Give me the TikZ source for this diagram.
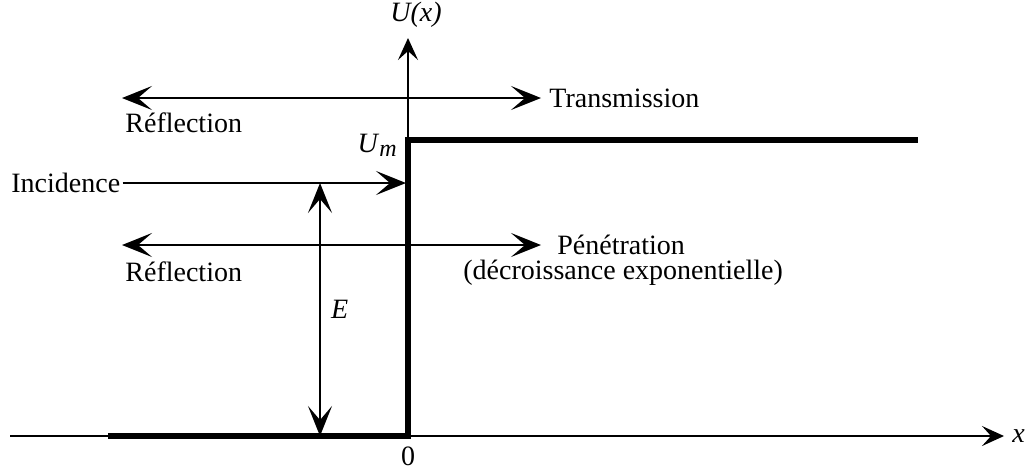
\documentclass[tikz,border=0pt]{standalone}
\usepackage{fontspec}
\setmainfont{Liberation Serif}
\usetikzlibrary{positioning, arrows.meta}

\begin{document}
\begin{tikzpicture}[x=0.5pt, y=-0.5pt, font=\fontsize{14}{16}\selectfont, inner sep=0pt,
    thinline/.style={line width=1pt},
    wellline/.style={line width=3.2pt},
    barb/.style={-{Stealth[length=15pt, width=12pt, inset=7pt]}},
    axisbarb/.style={-{Stealth[length=11pt, width=10pt, inset=4.5pt]}},
    bibarb/.style={{Stealth[length=15pt, width=12pt, inset=7pt]}-{Stealth[length=15pt, width=12pt, inset=7pt]}}]
  \useasboundingbox (0,0) rectangle (1026,472);
  % axes
  \coordinate (xleft) at (10,436);
  \coordinate (xright) at (1004,436);
  \coordinate (origin) at (408,436);
  \coordinate (ytop) at (408,38);
  \draw[thinline, axisbarb] (xleft) -- (xright);
  \draw[thinline, axisbarb] (origin) -- (ytop);
  \node[right=4pt of xright] (xlab) {\textit{x}};
  \node[above=5pt of ytop, xshift=4pt] (ylab) {\textit{U(x)}};
  \node[below=5pt of origin] (zero) {0};
  % potential step
  \draw[wellline] (108,436) -- (origin) -- (408,140) -- (918,140);
  \node[anchor=base east] (um) at (397,152)
    {\textit{U}\raisebox{-0.35ex}{\fontsize{12}{12}\selectfont\textit{m}}};
  % E > U_m
  \coordinate (reflA) at (122,98);
  \coordinate (transA) at (541,98);
  \draw[thinline, bibarb] (reflA) -- (transA);
  \node[right=4pt of transA] (trans) {Transmission};
  \node[anchor=west] (reflAlab) at (125,123) {Réflection};
  % incident wave
  \node[anchor=west, inner xsep=1pt] (inc) at (9,183) {Incidence};
  \coordinate (wall) at (406,183);
  \draw[thinline, barb] (inc.east) -- (wall);
  % E < U_m
  \coordinate (etop) at (320,183);
  \coordinate (ebot) at (320,436);
  \draw[thinline, bibarb] (etop) -- (ebot) node[midway, right=5pt] (elab) {\textit{E}};
  \coordinate (reflB) at (122,245);
  \coordinate (penB) at (541,245);
  \draw[thinline, bibarb] (reflB) -- (penB);
  \node[right=8pt of penB] (pen) {Pénétration};
  \node[anchor=west] (decr) at (463,273) {(décroissance exponentielle)};
  \node[anchor=west] (reflBlab) at (125,272) {Réflection};
\end{tikzpicture}
\end{document}
